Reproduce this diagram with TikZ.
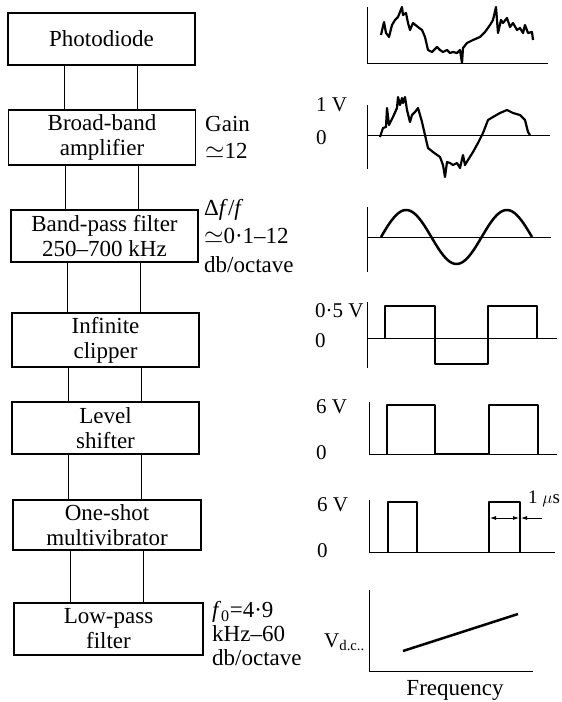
\documentclass[tikz,border=0pt]{standalone}
\usepackage{fontspec}
\setmainfont{Liberation Serif}
\usetikzlibrary{arrows.meta}

\begin{document}
\begin{tikzpicture}[
  x=1pt, y=-1pt,
  every node/.style={font=\fontsize{23}{25}\selectfont},
  block/.style={draw, line width=1.4pt, minimum width=187pt, minimum height=52pt, inner sep=0pt, align=center},
  link/.style={line width=0.9pt},
  note/.style={anchor=north west, align=left, inner sep=0pt},
  lab/.style={anchor=west, inner sep=0pt, font=\fontsize{21}{23}\selectfont},
  axis/.style={line width=1pt},
  trace/.style={line width=2.5pt, line join=round},
  tip/.style={line width=0.8pt},
]
\useasboundingbox (0,0) rectangle (562,702);

% blocks
\node[block] (pd)   at (101.5,39)  {Photodiode};
\node[block, minimum height=55pt] (amp) at (102,137.5) {Broad-band\\amplifier};
\node[block] (bpf)  at (104.5,236) {Band-pass filter\\250–700 kHz};
\node[block, minimum height=54pt] (clip) at (105.5,340) {Infinite\\clipper};
\node[block] (lvl)  at (105.5,428) {Level\\shifter};
\node[block, minimum height=50pt, minimum width=188pt] (osm) at (107,525) {One-shot\\multivibrator};
\node[block, minimum width=189pt] (lpf) at (108.5,629) {Low-pass\\filter};

\foreach \a/\b in {pd/amp, amp/bpf, bpf/clip, clip/lvl, lvl/osm, osm/lpf} {
  \draw[link] ([xshift=-37pt]\a.south) -- ([xshift=-37pt]\a.south |- \b.north);
  \draw[link] ([xshift=36pt]\a.south) -- ([xshift=36pt]\a.south |- \b.north);
}

% notes
\node[note, font=\fontsize{23}{27}\selectfont] (gain) at (205,116) {Gain\\$\simeq$12};
\node[note, font=\fontsize{23}{28.5}\selectfont] (band) at (204,199) {Δ\textit{f}/\textit{f}\\$\simeq$0·1–12\\db/octave};
\node[note, font=\fontsize{23}{24}\selectfont] (cut) at (212,601) {\textit{f}\textsubscript{0}=4·9\\kHz–60\\db/octave};

% photodiode output
\draw[axis] (367,7) -- (367,63) -- (548,63);
\draw[trace, line width=2.2pt] (381,35) -- (384,22) -- (386,33) -- (389,37) -- (392,25) -- (395,20)
  -- (398,17) -- (402,7) -- (403,15) -- (406,13) -- (408,23) -- (410,30) -- (413,23) -- (418,27)
  -- (422,30) -- (425,37) -- (428,50) -- (432,52) -- (437,47) -- (440,50) -- (443,52) -- (447,50)
  -- (450,53) -- (453,52) -- (457,53) -- (460,50) -- (462,63) -- (463,48) -- (467,43) -- (473,40)
  -- (480,37) -- (485,32) -- (490,25) -- (493,20) -- (496,7) -- (498,33) -- (501,20) -- (503,23)
  -- (507,18) -- (510,27) -- (513,23) -- (517,30) -- (520,28) -- (523,33) -- (525,25) -- (528,33)
  -- (532,32) -- (533,40);

% amplifier output
\node[lab] (v1) at (316,105) {1 V};
\node[lab] (z1) at (316,138) {0};
\draw[axis] (367,105) -- (367,169);
\draw[axis] (367,135) -- (550,135);
\draw[trace, line width=2.2pt] (380,137) -- (383,128) -- (386,127) -- (387,108) -- (389,125) -- (393,117)
  -- (397,108) -- (398,97) -- (400,105) -- (402,98) -- (403,103) -- (405,97) -- (407,110) -- (410,122)
  -- (412,115) -- (415,112) -- (418,108) -- (422,122) -- (425,135) -- (428,148) -- (433,152)
  -- (440,157) -- (443,165) -- (445,177) -- (447,162) -- (450,163) -- (453,165) -- (457,163)
  -- (460,168) -- (463,155) -- (465,165) -- (468,160) -- (473,152) -- (478,143) -- (483,133)
  -- (488,120) -- (493,117) -- (500,113) -- (507,110) -- (513,113) -- (520,115) -- (525,120)
  -- (528,132) -- (530,135);

% band-pass output
\draw[axis] (367,207) -- (367,272);
\draw[axis] (367,237) -- (551,237);
\draw[trace] plot[domain=381:532, samples=90, smooth] (\x, {237 - 27*sin((\x-381)*3.576)});

% clipper output
\node[lab] (v2) at (315,311) {0·5 V};
\node[lab] (z2) at (315,341) {0};
\draw[axis] (367,302) -- (367,368);
\draw[axis] (367,338) -- (557,338);
\draw[trace] (385,338) -- (385,306) -- (435,306) -- (435,364) -- (488,364) -- (488,306) -- (537,306) -- (537,338);

% level shifter output
\node[lab] (v3) at (316,407) {6 V};
\node[lab] (z3) at (316,453) {0};
\draw[axis] (369,402) -- (369,454) -- (557,454);
\draw[trace] (387,454) -- (387,405) -- (435,405) -- (435,454) -- (489,454) -- (489,405) -- (538,405) -- (538,454);

% one-shot output
\node[lab] (v4) at (317,505) {6 V};
\node[lab] (z4) at (317,551) {0};
\draw[axis] (369,500) -- (369,553);
\draw[axis] (369,552) -- (555,552);
\draw[trace] (388,552) -- (388,502) -- (417,502) -- (417,552);
\draw[trace] (489,552) -- (489,502) -- (520,502) -- (520,552);
\coordinate (w1) at (490,518);
\coordinate (w2) at (519,518);
\coordinate (w3) at (542,518);
\draw[tip, {Latex[length=6pt,width=4pt]}-{Latex[length=6pt,width=4pt]}] (w1) -- (w2);
\draw[tip, -{Latex[length=6pt,width=4pt]}] (w3) -- ([xshift=2pt]w2);
\node[lab, font=\fontsize{19}{21}\selectfont] (us) at (528,499) {1 $\mu$s};

% low-pass output
\node[lab, anchor=east] (vdc) at (365,642) {V\textsubscript{d.c..}};
\draw[axis] (369,590) -- (369,671) -- (533,671);
\draw[trace] (403,651) -- (518,614);
\node[inner sep=0pt] (freq) at (455,690) {Frequency};
\end{tikzpicture}
\end{document}
